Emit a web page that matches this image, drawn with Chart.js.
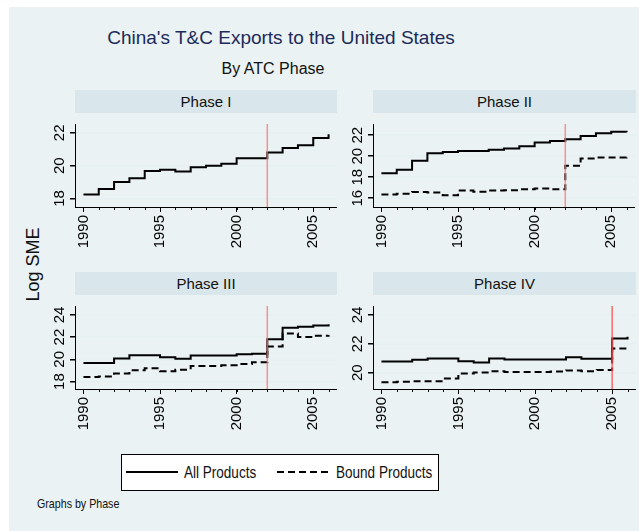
<!DOCTYPE html>
<html>
<head>
<meta charset="utf-8">
<script src="https://cdn.jsdelivr.net/npm/chart.js@4.4.0/dist/chart.umd.min.js"></script>
<style>
body { margin:0; width:639px; height:531px; overflow:hidden; position:relative; background:#fff; font-family:"Liberation Sans", Arial, sans-serif; }
#bg { position:absolute; left:9px; top:7px; width:630px; height:524px; background:#eaf2f3; }
.abs { position:absolute; }
.strip { position:absolute; height:23px; line-height:23px; background:#d9e6eb; color:#111; font-size:15px; text-align:center; }
#title { left:61px; top:27px; width:440px; text-align:center; font-size:19px; color:#1c2a5a; }
#subtitle { left:153px; top:60px; width:240px; text-align:center; font-size:16px; color:#111; }
#ylab { left:-7px; top:254px; width:80px; text-align:center; font-size:18px; transform:rotate(-90deg); color:#111; }
#legend { left:121px; top:454px; width:316px; height:35px; border:1px solid #000; background:#fff; }
/* no narrow face installed, so squeeze the normal one */
.narrow { white-space:nowrap; transform:scaleX(0.82); transform-origin:0 50%; }
.leg { position:absolute; top:8px; font-size:16.5px; color:#111; }
#note { left:37px; top:496px; font-size:13px; color:#111; }
</style>
</head>
<body>
<div id="bg"></div>
<div id="title" class="abs">China's T&amp;C Exports to the United States</div>
<div id="subtitle" class="abs">By ATC Phase</div>
<div id="ylab" class="abs">Log SME</div>

<div class="strip" style="left:75px;top:90px;width:262px">Phase I</div>
<div class="strip" style="left:373px;top:90px;width:263px">Phase II</div>
<div class="strip" style="left:75px;top:272px;width:262px">Phase III</div>
<div class="strip" style="left:373px;top:272px;width:263px">Phase IV</div>

<canvas id="p1" class="abs" width="292" height="139" style="left:45px;top:113px"></canvas>
<canvas id="p2" class="abs" width="292" height="139" style="left:343px;top:113px"></canvas>
<canvas id="p3" class="abs" width="292" height="139" style="left:45px;top:295px"></canvas>
<canvas id="p4" class="abs" width="293" height="139" style="left:343px;top:295px"></canvas>

<div id="legend" class="abs">
  <svg class="abs" style="left:4px;top:0" width="60" height="35"><line x1="0" y1="17" x2="52" y2="17" stroke="#000" stroke-width="2"/></svg>
  <span class="leg narrow" style="left:62px">All Products</span>
  <svg class="abs" style="left:155px;top:0" width="60" height="35"><line x1="0" y1="17" x2="54" y2="17" stroke="#000" stroke-width="2" stroke-dasharray="7,4"/></svg>
  <span class="leg narrow" style="left:214px">Bound Products</span>
</div>
<div id="note" class="abs narrow">Graphs by Phase</div>

<script>
// years on the x axis
const years = [1990, 1991, 1992, 1993, 1994, 1995, 1996, 1997, 1998, 1999, 2000, 2001, 2002, 2003, 2004, 2005, 2006];
const xTicks = [1990, 1995, 2000, 2005];

// log SME, all products / bound products
const allP1 = [18.24, 18.57, 19.01, 19.23, 19.68, 19.75, 19.64, 19.91, 20.0, 20.11, 20.45, 20.45, 20.81, 21.08, 21.24, 21.69, 21.92];
const allP2 = [18.38, 18.72, 19.57, 20.28, 20.39, 20.5, 20.5, 20.62, 20.73, 20.96, 21.3, 21.44, 21.62, 21.92, 22.2, 22.32, 22.28];
const boundP2 = [16.34, 16.42, 16.59, 16.54, 16.28, 16.74, 16.62, 16.74, 16.76, 16.85, 16.93, 16.85, 19.08, 19.78, 19.88, 19.88, 19.95];
const allP3 = [19.68, 19.68, 20.08, 20.37, 20.37, 20.19, 20.05, 20.35, 20.35, 20.35, 20.45, 20.5, 21.81, 22.85, 22.93, 23.04, 23.15];
const boundP3 = [18.4, 18.45, 18.72, 19.01, 19.2, 18.93, 19.07, 19.39, 19.41, 19.47, 19.57, 19.73, 21.15, 22.32, 22.0, 22.13, 22.19];
const allP4 = [20.78, 20.78, 20.89, 20.99, 20.99, 20.8, 20.7, 20.99, 20.91, 20.91, 20.91, 20.91, 21.07, 20.97, 20.97, 22.37, 22.49];
const boundP4 = [19.34, 19.38, 19.4, 19.4, 19.59, 19.94, 20.02, 20.1, 20.04, 20.04, 20.04, 20.08, 20.16, 20.1, 20.19, 21.67, 21.81];

// y tick labels per panel
const yTicksP1 = [18, 20, 22];
const yTicksP2 = [16, 18, 20, 22];
const yTicksP3 = [18, 20, 22, 24];
const yTicksP4 = [20, 22, 24];

// year the phase was integrated (red line)
const atcYear = [2002, 2002, 2002, 2005];

function pts(vals) {
    return years.map(function (y, i) { return { x: y, y: vals[i] }; });
}

// red vertical line + small yearly ticks
const extras = {
    id: 'extras',
    afterDatasetsDraw(chart, args, opts) {
        const c = chart.ctx, a = chart.chartArea;
        const x = chart.scales.x.getPixelForValue(opts.year);
        c.save();
        c.strokeStyle = opts.red;
        c.lineWidth = 1.5;
        c.beginPath();
        c.moveTo(x, a.top);
        c.lineTo(x, a.bottom);
        c.stroke();
        c.strokeStyle = '#000';
        c.lineWidth = 1;
        c.beginPath();
        years.forEach(function (yr) {
            const px = Math.round(chart.scales.x.getPixelForValue(yr)) + 0.5;
            c.moveTo(px, a.bottom);
            c.lineTo(px, a.bottom + 3);
        });
        c.stroke();
        c.restore();
    }
};

function panel(id, all, bound, yTicks, yMin, yMax, atc, red) {
    var sets = [{
        data: pts(all),
        borderColor: '#000',
        borderWidth: 2,
        stepped: 'before',
        pointRadius: 0
    }];
    if (bound) {
        sets.push({
            data: pts(bound),
            borderColor: '#000',
            borderWidth: 2,
            borderDash: [7, 4],
            stepped: 'before',
            pointRadius: 0
        });
    }
    return new Chart(document.getElementById(id), {
        type: 'line',
        data: { datasets: sets },
        options: {
            responsive: false,
            animation: false,
            layout: { padding: 0 },
            plugins: {
                legend: { display: false },
                tooltip: { enabled: false },
                extras: { year: atc, red: red }
            },
            scales: {
                x: {
                    type: 'linear',
                    min: 1989.45,
                    max: 2006.55,
                    afterBuildTicks: function (s) { s.ticks = xTicks.map(function (v) { return { value: v }; }); },
                    afterFit: function (s) { s.height = 45; },
                    grid: { drawOnChartArea: false, tickLength: 5, tickColor: '#000' },
                    border: { color: '#000', width: 1 },
                    ticks: {
                        minRotation: 90, maxRotation: 90, padding: 3, autoSkip: false,
                        color: '#000', font: { family: 'Liberation Sans, Arial', size: 15 },
                        callback: function (v) { return String(v); }
                    }
                },
                y: {
                    min: yMin,
                    max: yMax,
                    afterBuildTicks: function (s) { s.ticks = yTicks.map(function (v) { return { value: v }; }); },
                    afterFit: function (s) { s.width = 30; },
                    grid: { color: '#e6eff1', lineWidth: 1.5, tickLength: 5, tickColor: '#000' },
                    border: { color: '#000', width: 1 },
                    ticks: {
                        minRotation: 90, maxRotation: 90, crossAlign: 'center', padding: 2,
                        color: '#000', font: { family: 'Liberation Sans, Arial', size: 15 }
                    }
                }
            }
        },
        plugins: [extras]
    });
}

panel('p1', allP1, null, yTicksP1, 17.48, 22.54, atcYear[0], 'rgba(255,110,110,0.75)');
panel('p2', allP2, boundP2, yTicksP2, 15.16, 23.07, atcYear[1], 'rgba(255,110,110,0.75)');
panel('p3', allP3, boundP3, yTicksP3, 17.33, 24.8, atcYear[2], 'rgba(255,110,110,0.75)');
panel('p4', allP4, boundP4, yTicksP4, 18.87, 24.62, atcYear[3], 'rgba(255,80,80,0.85)');
</script>
</body>
</html>
